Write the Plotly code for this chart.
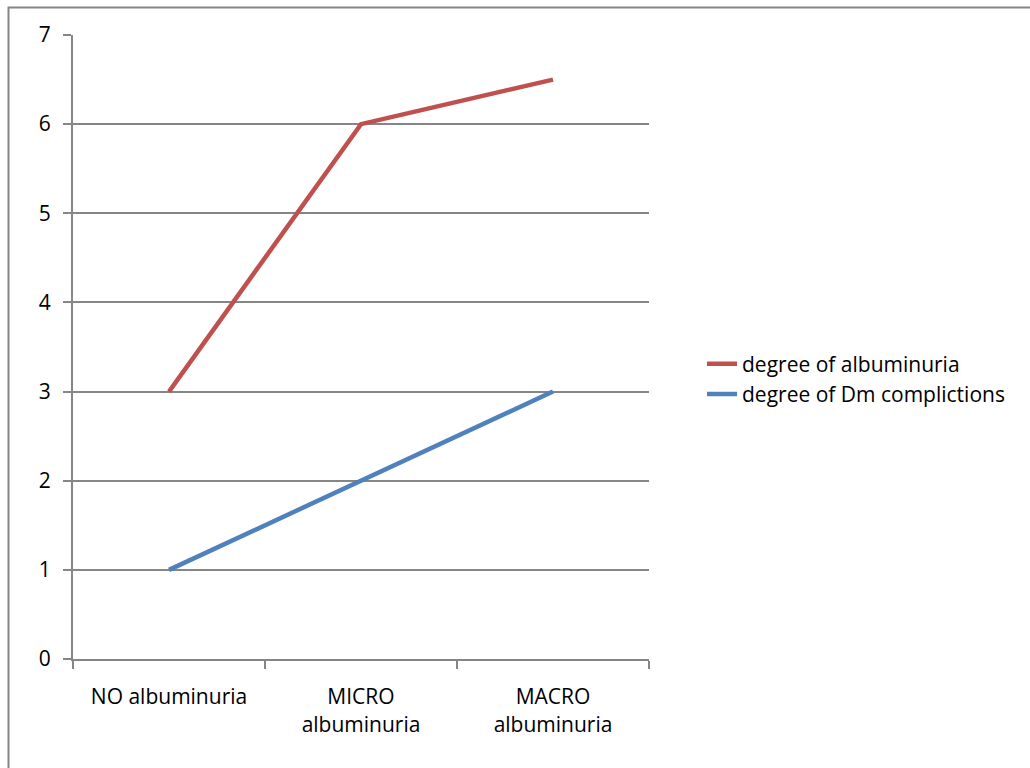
import plotly.graph_objects as go

categories = ["NO albuminuria", "MICRO<br>albuminuria", "MACRO<br>albuminuria"]
albuminuria = [3, 6, 6.5]
dm_complications = [1, 2, 3]
series_names = ["degree of albuminuria", "degree of Dm complictions"]
y_ticks = [0, 1, 2, 3, 4, 5, 6, 7]

FONT = "Open Sans"
FS = 21
GRID = "#868686"

# plot area in pixels (page is 1030 x 768)
W, H = 1030, 768
L, R, T, B = 73, 381, 35, 109
pw, ph = W - L - R, H - T - B

fig = go.Figure()
fig.add_trace(go.Scatter(x=categories, y=albuminuria, mode="lines",
                         name=series_names[0],
                         line=dict(color="#C0504D", width=4.5)))
fig.add_trace(go.Scatter(x=categories, y=dm_complications, mode="lines",
                         name=series_names[1],
                         line=dict(color="#4F81BD", width=4.5)))

# outer chart frame (right and bottom edges fall outside the page)
def px_x(v):
    return (v - L) / pw

def px_y(v):
    return (H - B - v) / ph

fig.add_shape(type="rect", xref="paper", yref="paper",
              x0=px_x(8.5), x1=px_x(W + 20), y0=px_y(7.5), y1=px_y(H + 20),
              line=dict(color=GRID, width=2), layer="below")

fig.update_layout(
    width=W, height=H,
    margin=dict(l=L, r=R, t=T, b=B),
    paper_bgcolor="white", plot_bgcolor="white",
    font=dict(family=FONT, size=FS, color="black"),
    showlegend=True,
    legend=dict(x=px_x(702), y=px_y(379), xanchor="left", yanchor="middle",
                font=dict(size=FS), tracegroupgap=0, itemwidth=30,
                bgcolor="rgba(0,0,0,0)"),
    xaxis=dict(type="category", tickson="boundaries", ticks="outside",
               ticklen=8, tickwidth=2, tickcolor=GRID,
               showline=True, linecolor=GRID, linewidth=2,
               showgrid=False, zeroline=False, fixedrange=True,
               tickfont=dict(size=FS), range=[-0.5, 2.5],
               ticklabelstandoff=18),
    yaxis=dict(range=[0, 7], tickvals=y_ticks, ticks="outside",
               ticklen=8, tickwidth=2, tickcolor=GRID,
               showline=True, linecolor=GRID, linewidth=2,
               showgrid=True, gridcolor=GRID, gridwidth=2,
               zeroline=False, tickfont=dict(size=FS), ticklabelstandoff=8),
)

fig.write_html("out.html")
